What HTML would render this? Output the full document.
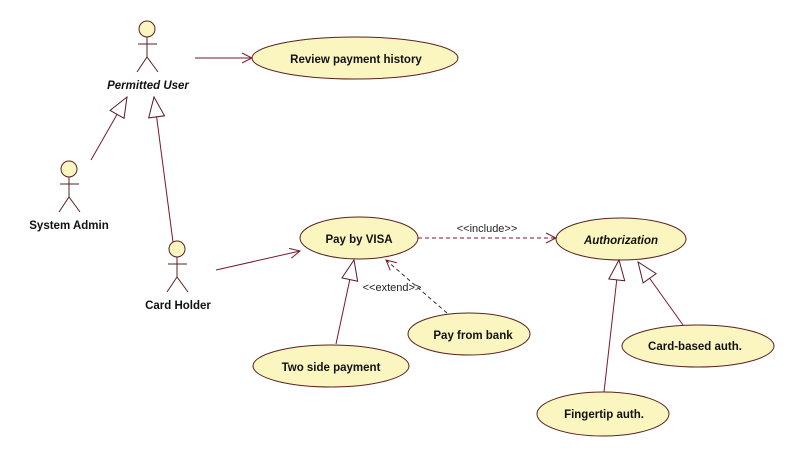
<!DOCTYPE html>
<html><head><style>
html,body{margin:0;padding:0;background:#fff;}
svg text{font-family:"Liberation Sans",Tahoma,sans-serif;}
</style></head><body>
<svg width="790" height="456" xmlns="http://www.w3.org/2000/svg">
<defs>
<marker id="open" viewBox="0 0 12 12" refX="11" refY="6" markerWidth="12" markerHeight="12" markerUnits="userSpaceOnUse" orient="auto">
<path d="M1,1 L11,6 L1,11" fill="none" stroke="#7a1a2a" stroke-width="1"/>
</marker>
<marker id="tri" viewBox="0 0 22 18" refX="21" refY="9" markerWidth="22" markerHeight="18" markerUnits="userSpaceOnUse" orient="auto">
<path d="M1,1 L21,9 L1,17 Z" fill="#fff" stroke="#5a1a2a" stroke-width="1"/>
</marker>
</defs>
<g fill="#fbf6c0" stroke="#5a2020" stroke-width="1">
<ellipse cx="355" cy="58" rx="103" ry="21"/>
<ellipse cx="359" cy="238" rx="59" ry="21"/>
<ellipse cx="621" cy="239" rx="65" ry="21"/>
<ellipse cx="331" cy="366" rx="78" ry="21"/>
<ellipse cx="469" cy="334" rx="61" ry="21"/>
<ellipse cx="698" cy="346" rx="76" ry="21"/>
<ellipse cx="603" cy="414" rx="66" ry="22"/>
</g>
<g fill="#fbf6c0" stroke="#5a2020" stroke-width="1">
<circle cx="147" cy="29" r="8"/><path d="M147,37 V57 M138,44 H157 M137,72 L147,57 L158,72" fill="none"/>
<circle cx="69" cy="169" r="8"/><path d="M69,177 V197 M60,184 H79 M59,212 L69,197 L80,212" fill="none"/>
<circle cx="177" cy="249" r="8"/><path d="M177,257 V277 M168,264 H187 M167,292 L177,277 L188,292" fill="none"/>
</g>
<g stroke="#7a1a2a" stroke-width="1" fill="none">
<line x1="195" y1="58" x2="252" y2="58" marker-end="url(#open)"/>
<line x1="216" y1="270" x2="300" y2="251" marker-end="url(#open)"/>
<line x1="91" y1="160" x2="127" y2="97" marker-end="url(#tri)"/>
<line x1="173" y1="242" x2="154" y2="97" marker-end="url(#tri)"/>
<line x1="336" y1="344" x2="354" y2="260" marker-end="url(#tri)"/>
<line x1="604" y1="392" x2="619" y2="260" marker-end="url(#tri)"/>
<line x1="683" y1="325" x2="638" y2="262" marker-end="url(#tri)"/>
<line x1="418" y1="238" x2="556" y2="238" stroke-dasharray="4,3" marker-end="url(#open)"/>
<line x1="447" y1="313" x2="386" y2="260" stroke="#333" stroke-dasharray="4,3" marker-end="url(#open)"/>
</g>
<g font-size="11.5" font-weight="bold" fill="#111" text-anchor="middle">
<text x="148" y="89" font-style="italic">Permitted User</text>
<text x="69" y="229">System Admin</text>
<text x="178" y="309">Card Holder</text>
<text x="356" y="63">Review payment history</text>
<text x="359" y="243">Pay by VISA</text>
<text x="621" y="244" font-style="italic">Authorization</text>
<text x="331" y="371">Two side payment</text>
<text x="473" y="339">Pay from bank</text>
<text x="695" y="350">Card-based auth.</text>
<text x="604" y="418">Fingertip auth.</text>
</g>
<g font-size="11" fill="#222" text-anchor="middle">
<text x="487" y="232">&lt;&lt;include&gt;&gt;</text>
<text x="392" y="291">&lt;&lt;extend&gt;&gt;</text>
</g>
</svg>
</body></html>
